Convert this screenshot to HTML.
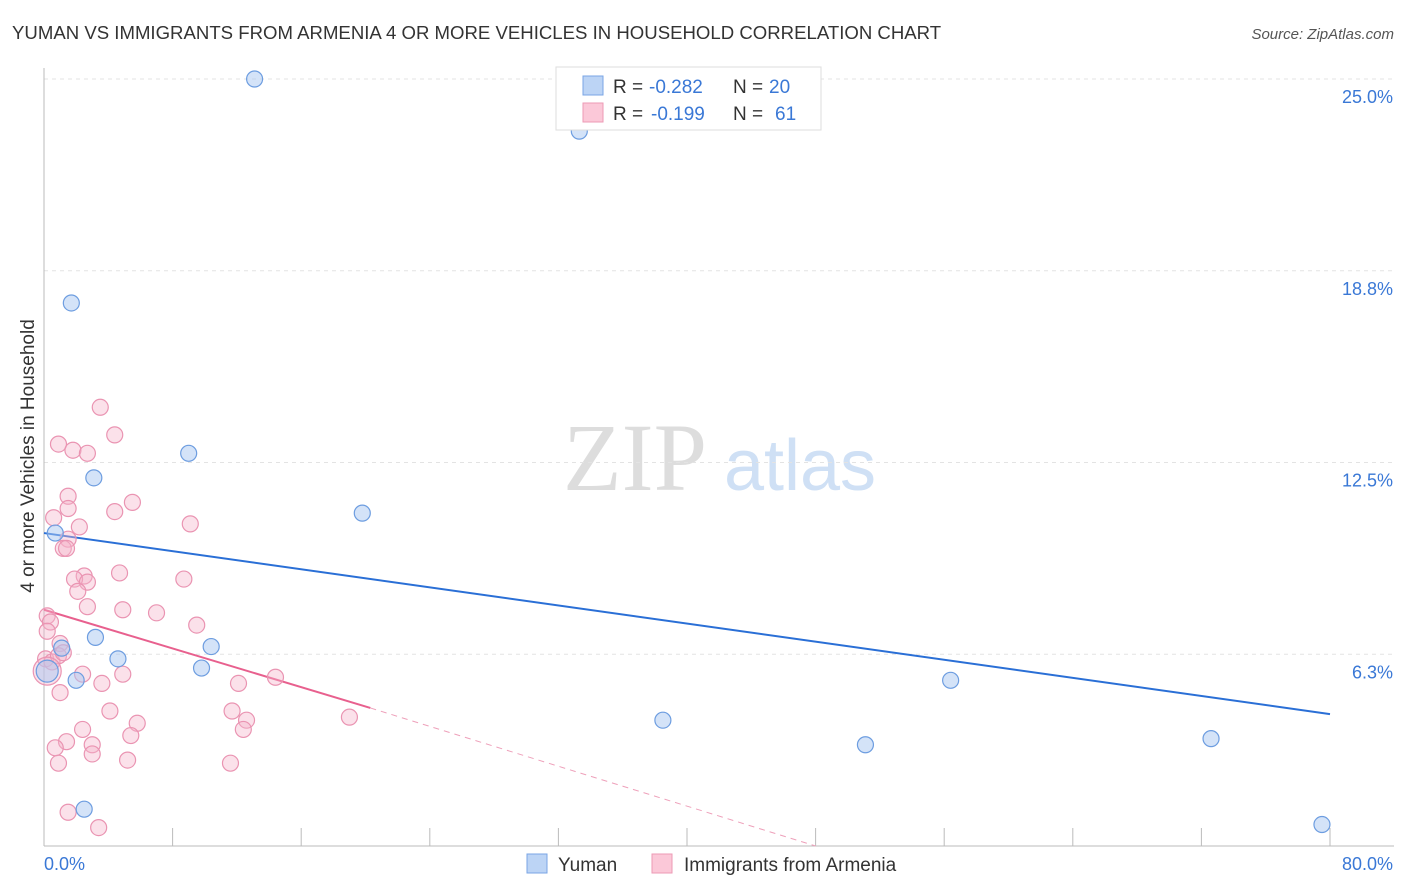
<!DOCTYPE html>
<html><head><meta charset="utf-8">
<style>
body{margin:0;background:#fff;font-family:"Liberation Sans",sans-serif;}
svg{display:block}
</style></head>
<body>
<svg id="chart" width="1406" height="892">
<text x="12" y="39" font-size="18.6" fill="#333">YUMAN VS IMMIGRANTS FROM ARMENIA 4 OR MORE VEHICLES IN HOUSEHOLD CORRELATION CHART</text>
<text x="1394" y="39" font-size="15" fill="#555" font-style="italic" text-anchor="end">Source: ZipAtlas.com</text>
<text x="34" y="456" font-size="19" fill="#333" text-anchor="middle" transform="rotate(-90 34 456)">4 or more Vehicles in Household</text>
<g>
<text x="635" y="490" font-size="96" font-family="Liberation Serif,serif" fill="#ddd" text-anchor="middle">ZIP</text>
<text x="800" y="490" font-size="72" fill="#cfe0f5" text-anchor="middle">atlas</text>
</g>
<g id="grid"></g>
<g id="axes"></g>
<g id="lines"></g>
<g id="pts"></g>
<g>
<rect x="556" y="67" width="265" height="63" fill="#fff" stroke="#ddd"/>
<rect x="583" y="76" width="20" height="19" fill="#bcd4f5" stroke="#7aa5e5"/>
<rect x="583" y="103" width="20" height="19" fill="#fbc8d8" stroke="#ec9ab5"/>
<text x="613" y="93" font-size="19" fill="#333">R =</text>
<text x="649" y="93" font-size="19" fill="#3a78d6">-0.282</text>
<text x="733" y="93" font-size="19" fill="#333">N =</text>
<text x="769" y="93" font-size="19" fill="#3a78d6">20</text>
<text x="613" y="120" font-size="19" fill="#333">R =</text>
<text x="651" y="120" font-size="19" fill="#3a78d6">-0.199</text>
<text x="733" y="120" font-size="19" fill="#333">N =</text>
<text x="775" y="120" font-size="19" fill="#3a78d6">61</text>
</g>
<g>
<rect x="527" y="854" width="20" height="19" fill="#bcd4f5" stroke="#7aa5e5"/>
<text x="558" y="871" font-size="19" fill="#333">Yuman</text>
<rect x="652" y="854" width="20" height="19" fill="#fbc8d8" stroke="#ec9ab5"/>
<text x="684" y="871" font-size="19" fill="#333">Immigrants from Armenia</text>
</g>
</svg>
<script>
const xTicksLabels=["0.0%","80.0%"];
const yTickValues=[6.25,12.5,18.75,25];
const yTickLabels=["6.3%","12.5%","18.8%","25.0%"];
const blueX=[13.1,33.3,1.7,9.0,3.1,19.8,0.7,3.2,1.1,10.4,4.6,9.8,2.0,56.4,38.5,51.1,72.6,2.5,79.5,0.2];
const blueY=[25.0,23.3,17.7,12.8,12.0,10.85,10.2,6.8,6.45,6.5,6.1,5.8,5.4,5.4,4.1,3.3,3.5,1.2,0.7,5.7];
const pinkX=[3.5,4.4,0.9,1.8,2.7,1.5,5.5,1.5,4.4,0.6,9.1,2.2,1.5,1.2,1.4,4.7,2.5,1.9,8.7,2.7,2.1,4.9,7.0,2.7,0.2,9.5,0.4,0.2,1.0,0.1,0.5,0.9,1.2,2.4,4.9,14.4,12.1,3.6,1.0,11.7,4.1,5.8,12.6,12.4,2.4,5.4,1.4,3.0,0.7,3.0,0.9,5.2,11.6,19.0,1.5,3.4,0.2];
const pinkY=[14.3,13.4,13.1,12.9,12.8,11.4,11.2,11.0,10.9,10.7,10.5,10.4,10.0,9.7,9.7,8.9,8.8,8.7,8.7,8.6,8.3,7.7,7.6,7.8,7.5,7.2,7.3,7.0,6.6,6.1,6.0,6.2,6.3,5.6,5.6,5.5,5.3,5.3,5.0,4.4,4.4,4.0,4.1,3.8,3.8,3.6,3.4,3.3,3.2,3.0,2.7,2.8,2.7,4.2,1.1,0.6,5.7];
const blueLine=[[0,10.2],[80,4.3]];
const pinkLine=[[0,7.7],[20.3,4.5]];
const pinkDash=[[20.3,4.5],[48,0]];
const X0=44,X1=1330,Y0=846,Y25=79;
const sx=v=>X0+(v/80)*(X1-X0);
const sy=v=>Y0-(v/25)*(Y0-Y25);
const NS="http://www.w3.org/2000/svg";
function mk(tag,attrs,parent){const e=document.createElementNS(NS,tag);for(const k in attrs)e.setAttribute(k,attrs[k]);document.getElementById(parent).appendChild(e);return e;}
yTickValues.forEach((v,i)=>{
 const l=mk('line',{x1:X0,x2:1394,y1:sy(v),y2:sy(v),stroke:'#e3e3e3','stroke-dasharray':'4,4'},'grid');
 
 
 const t=mk('text',{x:1393,y:sy(v)+24,'font-size':18,fill:'#3a78d6','text-anchor':'end'},'grid');
 t.textContent=yTickLabels[i];
 
 
});
const ax=mk('line',{x1:X0,x2:X0,y1:68,y2:846,stroke:'#bbb'},'axes');


const bx=mk('line',{x1:X0,x2:1394,y1:846,y2:846,stroke:'#bbb'},'axes');


for(let i=0;i<=10;i++){
 const t=mk('line',{x1:sx(i*8),x2:sx(i*8),y1:828,y2:846,stroke:'#bbb'},'axes');
 
 
}
[[0,'start',X0],[1,'end',1393]].forEach(([i,a,x])=>{
 const t=mk('text',{x:x,y:870,'font-size':18,fill:'#3a78d6','text-anchor':a},'axes');
 t.textContent=xTicksLabels[i];
 
 
});
const bl=mk('line',{x1:sx(blueLine[0][0]),y1:sy(blueLine[0][1]),x2:sx(blueLine[1][0]),y2:sy(blueLine[1][1]),stroke:'#2a6fd6','stroke-width':2},'lines');


const pl=mk('line',{x1:sx(pinkLine[0][0]),y1:sy(pinkLine[0][1]),x2:sx(pinkLine[1][0]),y2:sy(pinkLine[1][1]),stroke:'#e8608e','stroke-width':2},'lines');


const pd=mk('line',{x1:sx(pinkDash[0][0]),y1:sy(pinkDash[0][1]),x2:sx(pinkDash[1][0]),y2:sy(pinkDash[1][1]),stroke:'#eea0ba','stroke-width':1,'stroke-dasharray':'6,5'},'lines');


pinkX.forEach((x,i)=>{
 const r=(i===pinkX.length-1)?14:8;
 const c=mk('circle',{cx:sx(x),cy:sy(pinkY[i]),r:r,fill:'rgba(246,180,202,0.4)',stroke:'#ea94b2','stroke-width':1.2},'pts');
 
 
});
blueX.forEach((x,i)=>{
 const r=(i===blueX.length-1)?11:8;
 const c=mk('circle',{cx:sx(x),cy:sy(blueY[i]),r:r,fill:'rgba(170,200,242,0.5)',stroke:'#6d9de0','stroke-width':1.2},'pts');
 
 
});
</script>
</body></html>
